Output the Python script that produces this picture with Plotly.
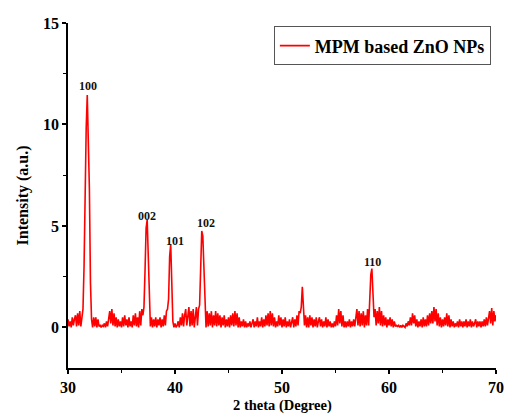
import numpy as np
import plotly.graph_objects as go

# XRD pattern of MPM based ZnO nanoparticles, sampled every 0.1 degree (2 theta 30..70)
two_theta_start = 30.0
two_theta_step = 0.1
intensity = [
    # 30
    0.4, 0.05, 0.3, 0.0, 0.5, 0.1, 0.4, 0.6, 0.05, 0.7,
    # 31
    0.1, 0.8, 0.05, 0.6, 0.9, 3.0, 7.4, 9.8, 11.45, 9.3,
    # 32
    6.8, 2.2, 0.4, 0.0, 0.5, 0.05, 0.5, 0.0, 0.4, 0.05,
    # 33
    0.1, 0.0, 0.1, 0.05, 0.2, 0.0, 0.3, 0.05, 0.6, 0.8,
    # 34
    0.2, 0.9, 0.1, 0.7, 0.05, 0.5, 0.0, 0.4, 0.05, 0.3,
    # 35
    0.0, 0.5, 0.05, 0.6, 0.1, 0.4, 0.0, 0.5, 0.05, 0.3,
    # 36
    0.0, 0.6, 0.1, 0.7, 0.05, 0.5, 0.0, 0.8, 0.1, 0.9,
    # 37
    0.6, 1.0, 2.8, 4.9, 5.3, 3.2, 0.9, 0.05, 0.5, 0.0,
    # 38
    0.4, 0.05, 0.5, 0.0, 0.4, 0.1, 0.5, 0.0, 0.4, 0.05,
    # 39
    0.6, 0.1, 0.8, 0.9, 1.4, 3.5, 4.1, 2.4, 0.3, 0.0,
    # 40
    0.2, 0.0, 0.1, 0.3, 0.0, 0.5, 0.1, 0.7, 0.05, 0.6,
    # 41
    0.9, 0.1, 0.7, 1.0, 0.05, 0.8, 0.1, 0.9, 0.0, 0.7,
    # 42
    1.0, 0.1, 0.9, 1.1, 2.5, 4.75, 4.5, 3.0, 0.8, 0.0,
    # 43
    0.8, 0.05, 0.7, 0.1, 0.8, 0.0, 0.6, 0.1, 0.8, 0.05,
    # 44
    0.7, 0.1, 0.6, 0.0, 0.5, 0.1, 0.6, 0.0, 0.4, 0.05,
    # 45
    0.5, 0.0, 0.6, 0.1, 0.7, 0.05, 0.8, 0.1, 0.7, 0.0,
    # 46
    0.5, 0.0, 0.3, 0.05, 0.4, 0.0, 0.3, 0.0, 0.2, 0.05,
    # 47
    0.3, 0.0, 0.2, 0.4, 0.0, 0.3, 0.05, 0.5, 0.0, 0.3,
    # 48
    0.05, 0.5, 0.0, 0.4, 0.05, 0.6, 0.1, 0.7, 0.05, 0.8,
    # 49
    0.1, 0.7, 0.05, 0.5, 0.0, 0.3, 0.05, 0.6, 0.1, 0.5,
    # 50
    0.0, 0.4, 0.05, 0.5, 0.0, 0.3, 0.05, 0.4, 0.0, 0.2,
    # 51
    0.5, 0.0, 0.4, 0.05, 0.6, 0.1, 0.8, 0.7, 1.0, 2.0,
    # 52
    1.2, 0.1, 0.6, 0.0, 0.5, 0.0, 0.6, 0.1, 0.5, 0.0,
    # 53
    0.4, 0.05, 0.5, 0.0, 0.3, 0.5, 0.05, 0.4, 0.0, 0.3,
    # 54
    0.05, 0.5, 0.0, 0.4, 0.05, 0.3, 0.0, 0.2, 0.0, 0.3,
    # 55
    0.05, 0.6, 0.1, 0.9, 0.2, 0.8, 0.05, 0.6, 0.0, 0.3,
    # 56
    0.0, 0.3, 0.05, 0.4, 0.0, 0.3, 0.05, 0.4, 0.05, 0.6,
    # 57
    0.9, 0.1, 0.8, 0.05, 0.7, 0.1, 0.8, 0.0, 0.6, 0.1,
    # 58
    0.9, 0.1, 1.2, 2.6, 2.9, 2.0, 0.5, 0.9, 0.1, 0.8,
    # 59
    0.2, 1.0, 0.1, 0.8, 0.05, 0.6, 0.1, 0.5, 0.0, 0.4,
    # 60
    0.1, 0.5, 0.05, 0.4, 0.0, 0.3, 0.05, 0.1, 0.05, 0.1,
    # 61
    0.0, 0.1, 0.0, 0.1, 0.05, 0.0, 0.2, 0.05, 0.3, 0.1,
    # 62
    0.5, 0.1, 0.7, 0.2, 0.6, 0.05, 0.4, 0.0, 0.3, 0.05,
    # 63
    0.4, 0.0, 0.5, 0.05, 0.4, 0.05, 0.6, 0.1, 0.7, 0.2,
    # 64
    0.8, 0.2, 1.0, 0.3, 0.9, 0.1, 0.7, 0.05, 0.5, 0.0,
    # 65
    0.4, 0.05, 0.5, 0.1, 0.7, 0.05, 0.6, 0.0, 0.4, 0.05,
    # 66
    0.3, 0.0, 0.2, 0.05, 0.3, 0.0, 0.4, 0.05, 0.3, 0.0,
    # 67
    0.3, 0.05, 0.4, 0.0, 0.3, 0.05, 0.4, 0.0, 0.3, 0.05,
    # 68
    0.2, 0.4, 0.0, 0.3, 0.05, 0.3, 0.0, 0.3, 0.05, 0.4,
    # 69
    0.05, 0.5, 0.1, 0.6, 0.8, 0.2, 0.95, 0.1, 0.8, 0.3,
    # 70
    0.6,
]
two_theta = np.round(two_theta_start + two_theta_step * np.arange(len(intensity)), 2)

# Miller indices of the labelled reflections and where their labels sit
peak_labels = ["100", "002", "101", "102", "110"]
label_x = [31.85, 37.35, 40.0, 42.85, 58.45]
label_y = [11.9, 5.5, 4.25, 5.15, 3.2]

x_ticks = [30, 40, 50, 60, 70]
y_ticks = [0, 5, 10, 15]

serif = "Liberation Serif, Times New Roman, serif"


def bold(s):
    return f"<b>{s}</b>"


fig = go.Figure()
fig.add_trace(go.Scatter(
    x=two_theta, y=intensity, mode="lines",
    name=bold("MPM based ZnO NPs"),
    line=dict(color="#ff0000", width=1.6),
))

for txt, lx, ly in zip(peak_labels, label_x, label_y):
    fig.add_annotation(x=lx, y=ly, text=bold(txt), showarrow=False,
                       font=dict(family=serif, size=12, color="#111111"))

# x-axis title placed just below the tick labels, near the bottom edge
fig.add_annotation(x=0.5, y=-0.11, xref="paper", yref="paper",
                   xanchor="center", yanchor="middle", showarrow=False,
                   text=bold("2 theta (Degree)"),
                   font=dict(family=serif, size=14.5, color="black"))

axis_common = dict(
    showgrid=False, zeroline=False, showline=True, linecolor="black", linewidth=1.5,
    ticks="outside", ticklen=4, tickwidth=1.5, tickcolor="black",
    tickfont=dict(family=serif, size=16, color="black"),
    automargin=False,
)

fig.update_xaxes(
    range=[30, 70], tickvals=x_ticks, ticktext=[bold(v) for v in x_ticks],
    minor=dict(ticks="outside", ticklen=3, tickwidth=1.2, tickcolor="black", dtick=5),
    **axis_common,
)
fig.update_yaxes(
    range=[-2, 15], tickvals=y_ticks, ticktext=[bold(v) for v in y_ticks],
    minor=dict(ticks="outside", ticklen=3, tickwidth=1.2, tickcolor="black", dtick=2.5, tick0=0),
    title=dict(text=bold("Intensity (a.u.)"), standoff=10,
               font=dict(family=serif, size=16, color="black")),
    **axis_common,
)

fig.update_layout(
    width=505, height=414,
    margin=dict(l=68, r=9, t=23, b=46),
    plot_bgcolor="white", paper_bgcolor="white",
    showlegend=True,
    legend=dict(
        x=0.481, y=0.99, xanchor="left", yanchor="top",
        bordercolor="#555555", borderwidth=1, bgcolor="white",
        font=dict(family=serif, size=18, color="black"),
        tracegroupgap=0, itemwidth=30,
    ),
)

fig.write_html("out.html")
